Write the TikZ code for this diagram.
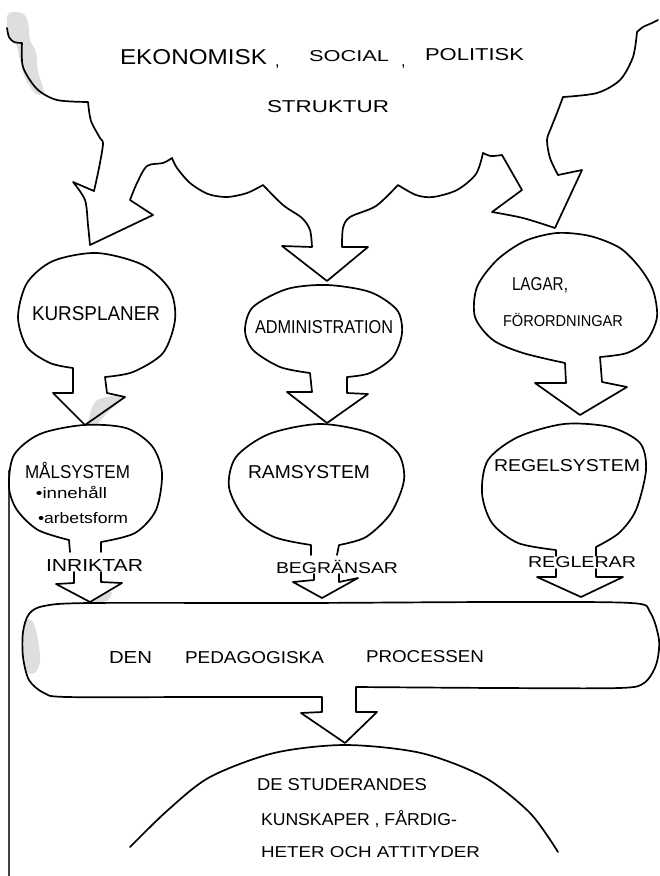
\documentclass[tikz,border=0pt]{standalone}
\usepackage{fontspec}
\setmainfont{Liberation Sans}
\usepackage{graphicx}
\newcommand{\hwtext}[3]{\resizebox{#1pt}{#2pt}{#3}}
\tikzset{
  ink/.style={line width=1.7pt, line join=round, line cap=round, draw=black},
  lbl/.style={anchor=base west, inner sep=0pt, outer sep=0pt},
  smudge/.style={fill=black!13, draw=none},
}
\begin{document}
\begin{tikzpicture}[x=1pt,y=-1pt]
\useasboundingbox (0,0) rectangle (660,876);
\fill[white] (0,0) rectangle (660,876);

% scan smudges
\fill[smudge] plot[smooth cycle] coordinates {(8,14)(22,13)(28,22)(30,40)(36,52)(38,72)(44,92)(36,94)(26,80)(20,60)(16,44)(8,34)};
\fill[smudge] plot[smooth cycle] coordinates {(95,402)(112,396)(122,398)(108,412)(97,424)(88,424)};
\fill[smudge] plot[smooth cycle] coordinates {(94,600)(104,594)(112,592)(108,600)(98,604)};
\fill[smudge] plot[smooth cycle] coordinates {(24,622)(33,622)(38,640)(40,660)(36,672)(26,672)(23,650)};

% page edge
\draw[line width=2pt, black!75] (9,470) -- (9,876);

% cloud with three arrows
\draw[ink] plot[smooth] coordinates {(7,28)(9,37)(14,42)(22,43)}
  -- plot[smooth] coordinates {(22,43)(23,67)(37,89)(57,100)(88,102)}
  -- plot[smooth] coordinates {(88,102)(91,121)(100,138)(103,144)(99,168)(94,191)}
  -- (73,182)
  -- plot[smooth] coordinates {(73,182)(85,200)(88,225)(90,245)}
  -- (153,215) -- (130,200)
  -- plot[smooth] coordinates {(130,200)(137,183)(147,166)(163,163)(172,158)}
  -- plot[smooth] coordinates {(172,158)(177,168)(190,183)(208,194)(227,197)(247,193)(263,185)}
  -- plot[smooth] coordinates {(263,185)(283,205)(302,218)(310,230)(312,247)}
  -- (282,246) -- (327,281) -- (368,247) -- (342,247)
  -- plot[smooth] coordinates {(342,247)(343,228)(350,217)(376,206)(398,185)}
  -- plot[smooth] coordinates {(398,185)(416,195)(433,197)(457,190)(476,174)(483,153)}
  -- plot[smooth] coordinates {(483,153)(491,156)(502,155)}
  -- (522,190) -- (492,212)
  -- plot[smooth] coordinates {(492,212)(523,218)(555,228)}
  -- (582,170) -- (558,175)
  -- plot[smooth] coordinates {(558,175)(550,158)(547,140)(551,128)(557,113)(563,97)}
  -- plot[smooth] coordinates {(563,97)(597,93)(620,80)(633,57)(637,32)}
  -- plot[smooth] coordinates {(637,32)(643,27)(652,23)(658,20)};

% KURSPLANER bubble
\draw[ink] (73,393) -- (73,368)
  -- plot[smooth] coordinates {(73,368)(50,363)(27,347)(18,317)(27,283)(53,261)(97,253)(143,265)(170,290)(175,320)(163,353)(133,372)(105,377)}
  -- (107,393) -- (125,397) -- (85,425) -- (53,393) -- cycle;

% ADMINISTRATION bubble
\draw[ink] (312,392) -- (310,373)
  -- plot[smooth] coordinates {(310,373)(280,367)(253,350)(245,330)(253,307)(287,289)(327,285)(370,292)(397,310)(402,333)(393,357)(370,373)(347,377)}
  -- (347,393) -- (368,394) -- (327,423) -- (287,392) -- cycle;

% LAGAR bubble
\draw[ink] (566,383) -- (565,363)
  -- plot[smooth] coordinates {(565,363)(523,353)(493,340)(475,317)(477,287)(497,260)(525,241)(557,233)(590,236)(620,248)(640,268)(653,290)(657,317)(647,340)(627,353)(600,357)}
  -- (602,382) -- (627,387) -- (580,415) -- (535,383) -- cycle;

% MALSYSTEM bubble
\draw[ink] (70,552) -- (69,540)
  -- plot[smooth] coordinates {(69,540)(38,530)(17,510)(9,487)(14,455)(40,434)(84,425)(126,428)(152,446)(162,473)(156,510)(135,533)(101,542)}
  -- (101,552);
\draw[ink] (74,572) -- (74,583) -- (56,584) -- (90,602) -- (122,583) -- (101,582) -- (101,572);

% RAMSYSTEM bubble
\draw[ink] (311,555) -- (311,545)
  -- plot[smooth] coordinates {(311,545)(274,537)(244,517)(229,487)(236,457)(269,434)(320,424)(370,433)(398,453)(404,480)(391,513)(366,537)(339,545)}
  -- (337,555);
\draw[ink] (314,574) -- (314,580) -- (293,582) -- (322,598) -- (358,578) -- (339,582) -- (339,574);

% REGELSYSTEM bubble
\draw[ink] (556,556) -- (556,550)
  -- plot[smooth] coordinates {(556,550)(518,543)(492,523)(482,493)(488,460)(518,437)(564,424)(610,427)(640,443)(646,470)(636,510)(619,533)(596,547)}
  -- (596,556);
\draw[ink] (556,569) -- (556,577) -- (537,577) -- (581,597) -- (623,577) -- (596,577) -- (596,569);

% process box
\draw[ink] (322,697) -- (322,712) -- (301,713) -- (345,743) -- (377,712) -- (356,712) -- (356,687)
  -- plot[smooth] coordinates {(356,687)(500,688)(619,688)(644,683)(656,665)(659,640)(650,612)(631,603)(500,602)(300,603)(90,603)(44,606)(29,614)(23,632)(23,657)(29,680)(44,693)(67,697)(200,697)(322,697)};

% dome
\draw[ink] plot[smooth] coordinates {(130,847)(168,810)(210,777)(274,753)(345,745)(421,753)(484,777)(530,813)(558,852)};

% texts
\node[lbl] (ekon) at (120,64) {\hwtext{147}{15}{EKONOMISK}};
\node[lbl] (c1) at (275,66) {\fontsize{16}{16}\selectfont ,};
\node[lbl] (soc) at (309,61) {\hwtext{80}{11}{SOCIAL}};
\node[lbl] (c2) at (401,66) {\fontsize{16}{16}\selectfont ,};
\node[lbl] (pol) at (425,60) {\hwtext{99}{12}{POLITISK}};
\node[lbl] (strk) at (267,112) {\hwtext{122}{12}{STRUKTUR}};

\node[lbl] (kurs) at (32,320) {\hwtext{128}{14}{KURSPLANER}};
\node[lbl] (adm) at (255,333) {\hwtext{138}{13}{ADMINISTRATION}};
\node[lbl] (lag) at (512,290) {\hwtext{56}{13}{LAGAR,}};
\node[lbl] (for) at (503,326) {\hwtext{120}{11}{F\smash{Ö}RORDNINGAR}};

\node[lbl] (mal) at (25,478) {\hwtext{105}{13}{M\smash{Å}LSYSTEM}};
\node[lbl] (inn) at (36,498) {\hwtext{71}{11}{\textbullet inneh\smash{å}ll}};
\node[lbl] (arb) at (38,523) {\hwtext{90}{11}{\textbullet arbetsform}};
\node[lbl] (ram) at (248,478) {\hwtext{122}{13}{RAMSYSTEM}};
\node[lbl] (reg) at (494,471) {\hwtext{146}{12}{REGELSYSTEM}};

\node[lbl] (inr) at (46,571) {\hwtext{97}{12}{INRIKTAR}};
\node[lbl] (beg) at (276,573) {\hwtext{122}{11}{BEGR\smash{Ä}NSAR}};
\node[lbl] (rgl) at (528,567) {\hwtext{108}{11}{REGLERAR}};

\node[lbl] (den) at (109,663) {\hwtext{43}{12}{DEN}};
\node[lbl] (ped) at (185,663) {\hwtext{139}{12}{PEDAGOGISKA}};
\node[lbl] (pro) at (366,662) {\hwtext{118}{12}{PROCESSEN}};

\node[lbl] (stu1) at (257,790) {\hwtext{170}{12}{DE STUDERANDES}};
\node[lbl] (stu2) at (261,825) {\hwtext{196}{12}{KUNSKAPER , F\smash{Å}RDIG-}};
\node[lbl] (stu3) at (261,857) {\hwtext{219}{11}{HETER OCH ATTITYDER}};
\end{tikzpicture}
\end{document}
